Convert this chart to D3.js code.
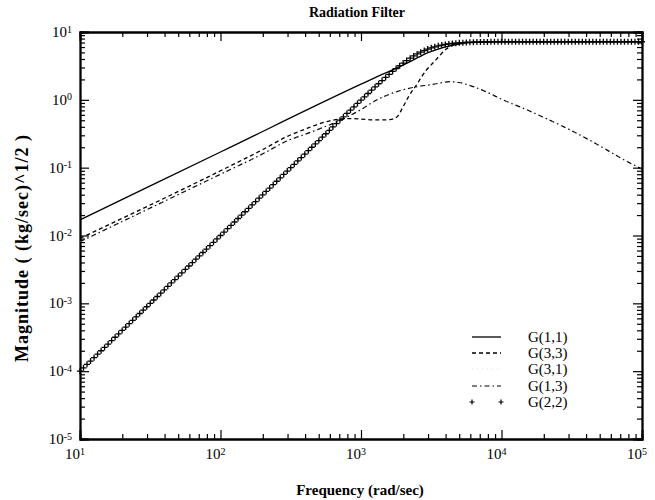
<!DOCTYPE html>
<html>
<head>
<meta charset="utf-8">
<script src="https://cdn.jsdelivr.net/npm/d3@7"></script>
<style>
  body { margin: 0; background: #fff; }
  text { font-family: "Liberation Serif", "DejaVu Serif", serif; fill: #000; }
</style>
</head>
<body>
<div id="chart"></div>
<script>
// frequency axis (rad/sec) and magnitude axis decades
const freqTicks = [1e1, 1e2, 1e3, 1e4, 1e5];
const freqExp = [1, 2, 3, 4, 5];
const magTicks = [1e-5, 1e-4, 1e-3, 1e-2, 1e-1, 1e0, 1e1];
const magExp = [-5, -4, -3, -2, -1, 0, 1];

// G(1,1) solid
const g11Freq = [10, 100, 1000, 1500, 1800, 2200, 2600, 3000, 3500, 4000, 5000, 6000, 8000, 1e4, 2e4, 1e5];
const g11Mag = [0.017, 0.17, 1.7, 2.5, 2.95, 3.6, 4.3, 4.95, 5.55, 6.05, 6.65, 6.95, 7.1, 7.15, 7.18, 7.19];

// G(3,3) dashed
const g33Freq = [10, 100, 200, 300, 400, 500, 600, 700, 850, 1000, 1300, 1600, 1800, 2000, 2200, 2500, 2900, 3300, 3600, 4000, 4500, 5000, 6000, 8000, 1e4, 1e5];
const g33Mag = [0.0091, 0.09, 0.185, 0.29, 0.37, 0.44, 0.49, 0.52, 0.53, 0.52, 0.505, 0.51, 0.56, 0.8, 1.15, 1.7, 2.7, 3.6, 4.4, 5.5, 6.4, 6.85, 7.1, 7.18, 7.2, 7.2];

// G(1,3) dash-dot, G(3,1) lies on top of it
const g13Freq = [10, 100, 200, 300, 400, 500, 600, 700, 800, 1000, 1300, 1800, 2500, 3200, 4300, 5000, 6000, 8000, 1e4, 1.5e4, 2e4, 3e4, 5e4, 7e4, 1e5];
const g13Mag = [0.0081, 0.08, 0.16, 0.25, 0.31, 0.37, 0.43, 0.49, 0.56, 0.72, 1.0, 1.32, 1.56, 1.68, 1.85, 1.8, 1.62, 1.28, 1.02, 0.72, 0.55, 0.37, 0.21, 0.14, 0.095];
const g31Freq = g13Freq;
const g31Mag = g13Mag;

// G(2,2) markers, sampled every 1/40 decade from 10 to 1e5
const g22Freq = d3.range(161).map(i => Math.pow(10, 1 + i / 40));
const g22Mag = [
  1.00e-4, 1.12e-4, 1.26e-4, 1.41e-4, 1.58e-4, 1.78e-4, 2.00e-4, 2.24e-4, 2.51e-4, 2.82e-4,
  3.16e-4, 3.55e-4, 3.98e-4, 4.47e-4, 5.01e-4, 5.62e-4, 6.31e-4, 7.08e-4, 7.94e-4, 8.91e-4,
  1.00e-3, 1.12e-3, 1.26e-3, 1.41e-3, 1.58e-3, 1.78e-3, 2.00e-3, 2.24e-3, 2.51e-3, 2.82e-3,
  3.16e-3, 3.55e-3, 3.98e-3, 4.47e-3, 5.01e-3, 5.62e-3, 6.31e-3, 7.08e-3, 7.94e-3, 8.91e-3,
  1.00e-2, 1.12e-2, 1.26e-2, 1.41e-2, 1.58e-2, 1.78e-2, 2.00e-2, 2.24e-2, 2.51e-2, 2.82e-2,
  3.16e-2, 3.55e-2, 3.98e-2, 4.47e-2, 5.01e-2, 5.62e-2, 6.31e-2, 7.08e-2, 7.94e-2, 8.91e-2,
  0.100, 0.112, 0.126, 0.141, 0.158, 0.178, 0.200, 0.224, 0.251, 0.282,
  0.316, 0.355, 0.398, 0.447, 0.501, 0.562, 0.630, 0.705, 0.790, 0.885,
  0.99, 1.109, 1.240, 1.387, 1.548, 1.726, 1.922, 2.138, 2.371, 2.624,
  2.894, 3.183, 3.483, 3.795, 4.113, 4.432, 4.746, 5.045, 5.332, 5.598,
  5.84, 6.056, 6.246, 6.41, 6.55, 6.67, 6.77, 6.85, 6.92, 6.97,
  7.01, 7.05, 7.08, 7.10, 7.12, 7.14, 7.15, 7.16, 7.17, 7.17,
  7.18, 7.18, 7.18, 7.18, 7.18, 7.18, 7.18, 7.18, 7.18, 7.18,
  7.18, 7.18, 7.18, 7.18, 7.18, 7.18, 7.18, 7.18, 7.18, 7.18,
  7.18, 7.18, 7.18, 7.18, 7.18, 7.18, 7.18, 7.18, 7.18, 7.18,
  7.18, 7.18, 7.18, 7.18, 7.18, 7.18, 7.18, 7.18, 7.18, 7.18,
  7.18
];

const legendNames = ["G(1,1)", "G(3,3)", "G(3,1)", "G(1,3)", "G(2,2)"];

const width = 655, height = 500;
const margin = {left: 80, right: 642, top: 32, bottom: 439};

const svg = d3.select("#chart").append("svg")
    .attr("width", width)
    .attr("height", height);

const x = d3.scaleLog().domain([1e1, 1e5]).range([margin.left, margin.right]);
const y = d3.scaleLog().domain([1e-5, 1e1]).range([margin.bottom, margin.top]);

const isMajor = v => Math.abs(Math.log10(v) - Math.round(Math.log10(v))) < 1e-6;
const xMinor = x.ticks().filter(v => !isMajor(v));
const yMinor = y.ticks().filter(v => !isMajor(v));

// axes: ticks point inward on all four sides
function addAxis(axisFn, scale, transform, majors, minors) {
    svg.append("g").attr("class", "axis-minor")
        .attr("transform", transform)
        .call(axisFn(scale).tickValues(minors).tickSize(-5).tickFormat(""));
    svg.append("g").attr("class", "axis-major")
        .attr("transform", transform)
        .call(axisFn(scale).tickValues(majors).tickSize(-9).tickFormat(""));
}
addAxis(d3.axisBottom, x, `translate(0,${margin.bottom})`, freqTicks, xMinor);
addAxis(d3.axisTop, x, `translate(0,${margin.top})`, freqTicks, xMinor);
addAxis(d3.axisLeft, y, `translate(${margin.left},0)`, magTicks, yMinor);
addAxis(d3.axisRight, y, `translate(${margin.right},0)`, magTicks, yMinor);

svg.selectAll(".domain").attr("stroke", "#000").attr("stroke-width", 1.8);
svg.selectAll(".tick line").attr("stroke", "#000").attr("stroke-width", 1.2);

// tick labels as 10 with superscript exponent
function powLabel(sel, exp) {
    sel.append("tspan").text("10");
    sel.append("tspan")
        .attr("dy", "-0.45em")
        .attr("font-size", "10px")
        .text(exp);
}

freqTicks.forEach((v, i) => {
    const t = svg.append("text")
        .attr("x", x(v) - 5)
        .attr("y", margin.bottom + 20)
        .attr("text-anchor", "middle")
        .attr("font-size", "15px");
    powLabel(t, freqExp[i]);
});

magTicks.forEach((v, i) => {
    const t = svg.append("text")
        .attr("x", margin.left - 8)
        .attr("y", y(v) + 5)
        .attr("text-anchor", "end")
        .attr("font-size", "15px");
    powLabel(t, magExp[i]);
});

// titles
svg.append("text")
    .attr("x", 357)
    .attr("y", 17)
    .attr("text-anchor", "middle")
    .attr("font-size", "14px")
    .attr("font-weight", "bold")
    .text("Radiation Filter");

svg.append("text")
    .attr("x", 360)
    .attr("y", 495)
    .attr("text-anchor", "middle")
    .attr("font-size", "15px")
    .attr("font-weight", "bold")
    .text("Frequency (rad/sec)");

svg.append("text")
    .attr("transform", `translate(28,248) rotate(-90)`)
    .attr("text-anchor", "middle")
    .attr("font-size", "18px")
    .attr("letter-spacing", "1px")
    .attr("font-weight", "bold")
    .text("Magnitude ( (kg/sec)^1/2 )");

// curves
const line = d3.line()
    .x(d => x(d[0]))
    .y(d => y(d[1]))
    .curve(d3.curveMonotoneX);

const styles = {
    g11: {dash: null, width: 1.3, color: "#000"},
    g33: {dash: "4,3", width: 1.3, color: "#000"},
    g31: {dash: "1,4", width: 0.5, color: "#bbb"},
    g13: {dash: "5,3,1.5,3", width: 1.2, color: "#000"}
};

function drawSeries(freq, mag, st) {
    svg.append("path")
        .datum(d3.zip(freq, mag))
        .attr("fill", "none")
        .attr("stroke", st.color)
        .attr("stroke-width", st.width)
        .attr("stroke-dasharray", st.dash)
        .attr("d", line);
}
drawSeries(g13Freq, g13Mag, styles.g13);
drawSeries(g31Freq, g31Mag, styles.g31);
drawSeries(g33Freq, g33Mag, styles.g33);
drawSeries(g11Freq, g11Mag, styles.g11);

function plusPath(size) {
    const s = size / 2;
    return `M${-s},0H${s}M0,${-s}V${s}`;
}

svg.append("g")
    .selectAll("path")
    .data(d3.zip(g22Freq, g22Mag))
    .join("path")
    .attr("transform", d => `translate(${x(d[0])},${y(d[1])})`)
    .attr("d", plusPath(6))
    .attr("stroke", "#000")
    .attr("stroke-width", 1.3)
    .attr("fill", "none");

// legend
const legendY = [337, 353, 369, 386, 402];
const legendStyles = [styles.g11, styles.g33, styles.g31, styles.g13, null];
const lg = svg.append("g");
legendNames.forEach((name, i) => {
    const st = legendStyles[i];
    if (st) {
        lg.append("line")
            .attr("x1", 472).attr("x2", 501)
            .attr("y1", legendY[i]).attr("y2", legendY[i])
            .attr("stroke", st.color)
            .attr("stroke-width", st.width)
            .attr("stroke-dasharray", st.dash);
    } else {
        [472, 501].forEach(px => {
            lg.append("path")
                .attr("transform", `translate(${px},${legendY[i]})`)
                .attr("d", plusPath(5))
                .attr("stroke", "#000")
                .attr("stroke-width", 1.2);
        });
    }
    lg.append("text")
        .attr("x", 528)
        .attr("y", legendY[i] + 5)
        .attr("font-size", "15px")
        .text(name);
});
</script>
</body>
</html>
